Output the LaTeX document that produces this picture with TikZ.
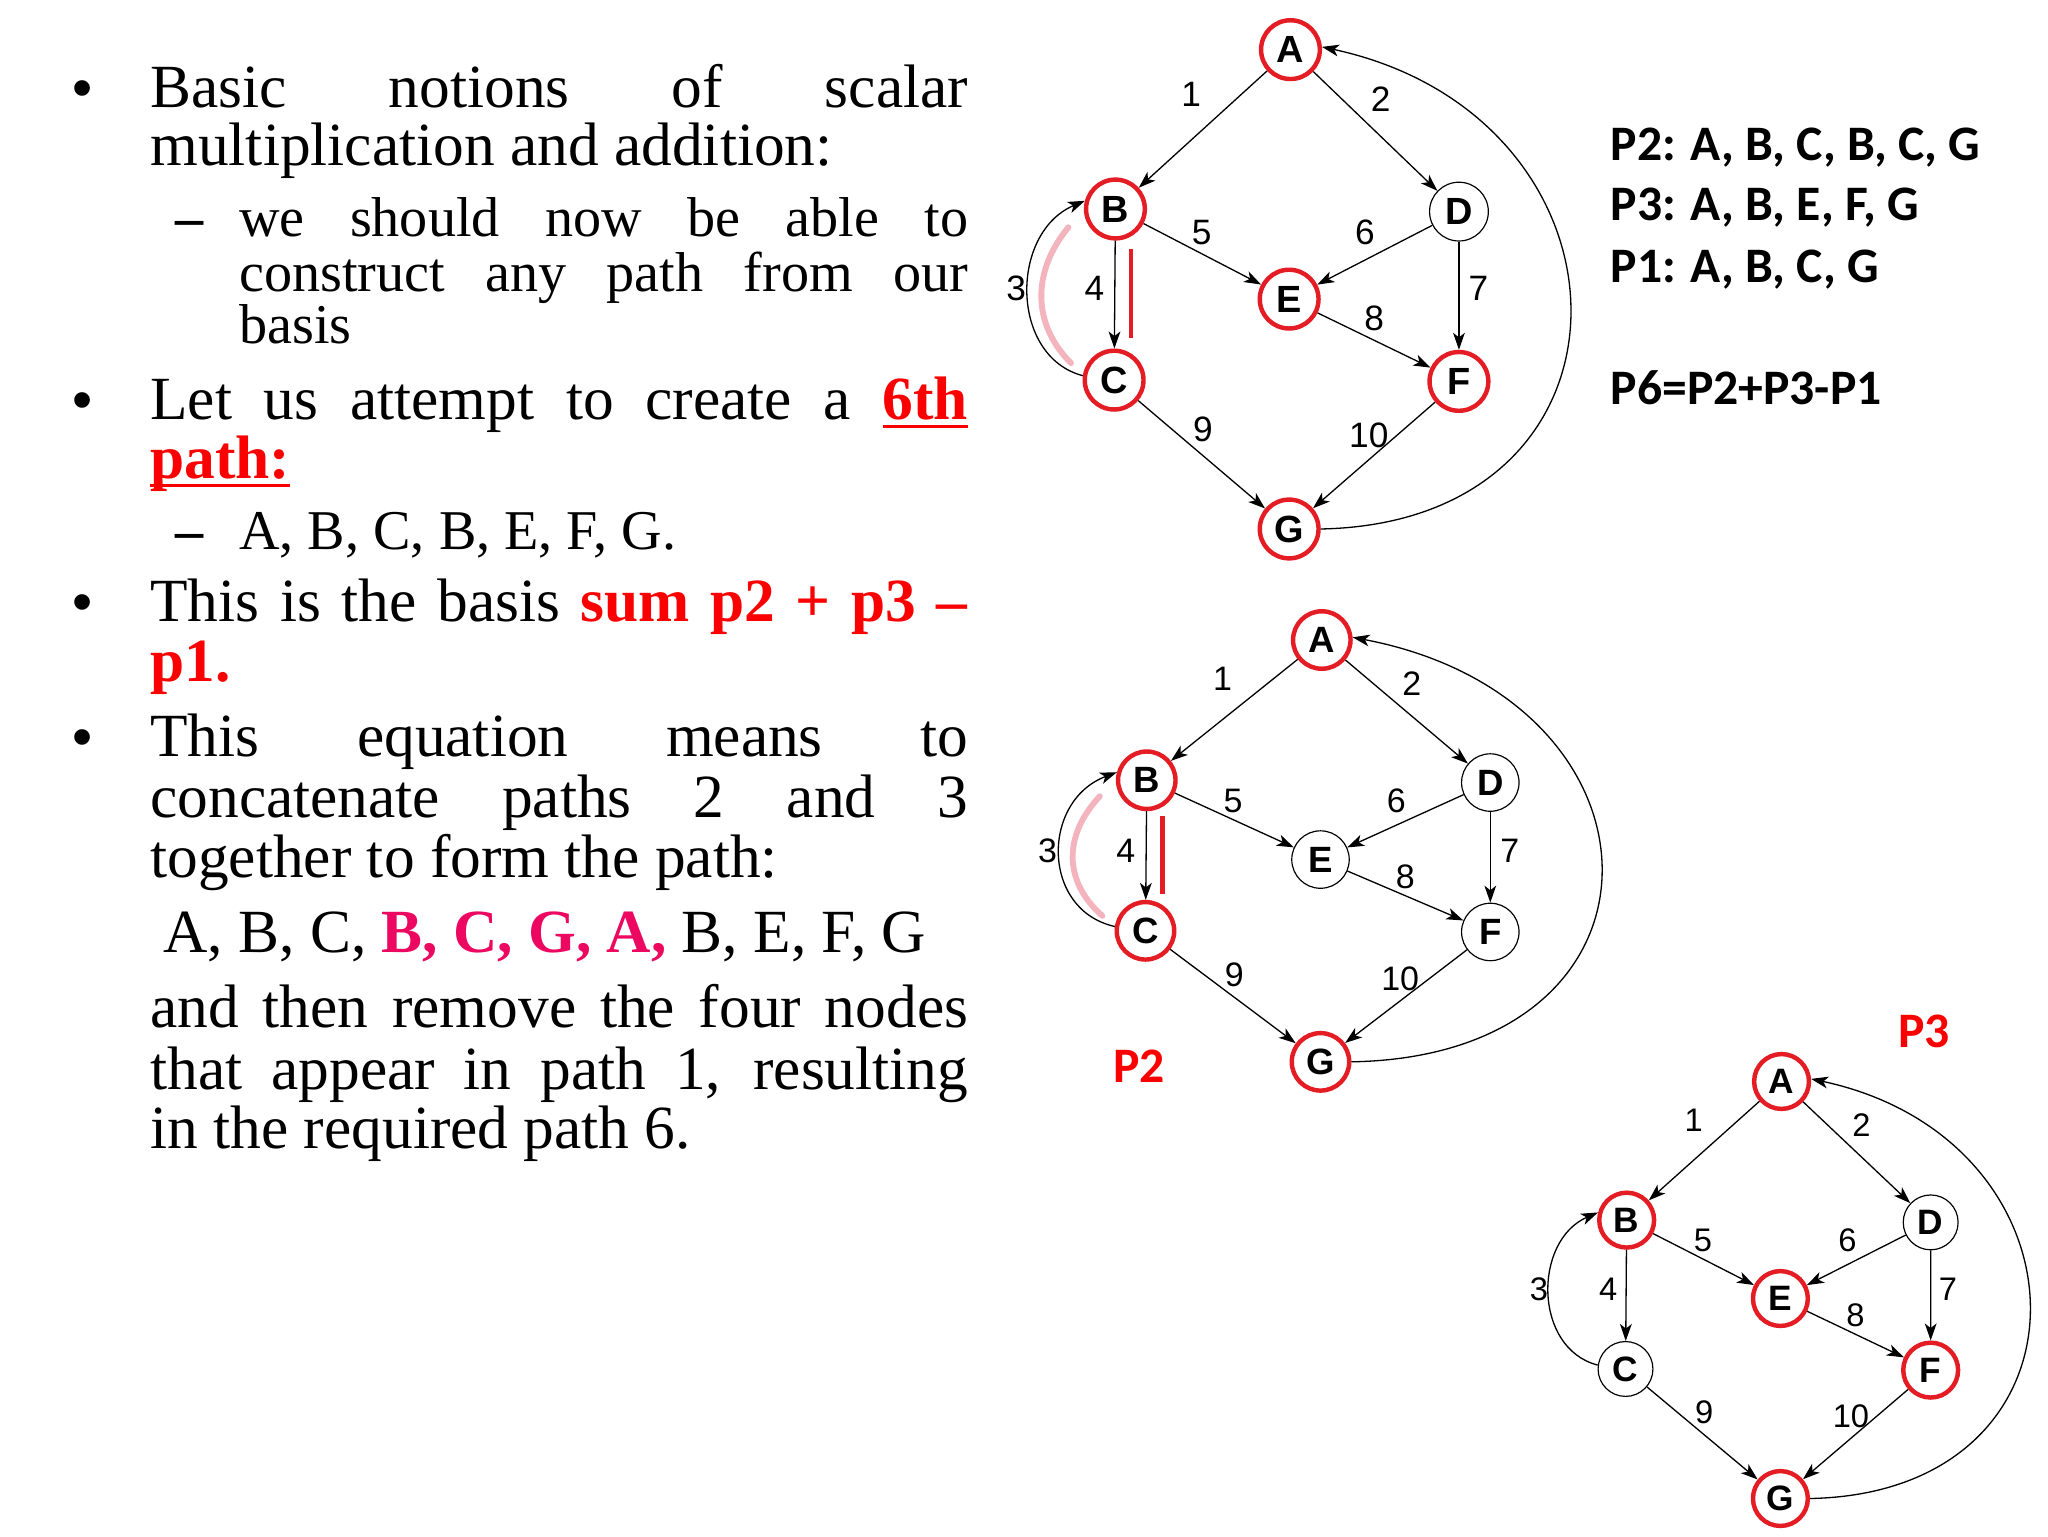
\documentclass[tikz,border=0pt]{standalone}
\usepackage{fontspec}
\setmainfont{Liberation Serif}
\newfontfamily\arialf{Liberation Sans}
\newfontfamily\calib{Carlito}
\usetikzlibrary{arrows.meta}
\definecolor{txtred}{RGB}{250,0,0}
\definecolor{ringred}{RGB}{228,28,36}
\definecolor{pathpink}{RGB}{236,8,96}
\definecolor{brushpink}{RGB}{244,180,190}
\newcommand\mainsize{\fontsize{47}{47}\selectfont}
\newcommand\subsize{\fontsize{43}{43}\selectfont}
\newsavebox\ulbox
\newcommand\redul[1]{\sbox\ulbox{#1}\rlap{\rule[-7pt]{\wd\ulbox}{2.8pt}}\usebox\ulbox}
\tikzset{
  txt/.style={anchor=base west, inner sep=0pt, font=\mainsize},
  subtxt/.style={anchor=base west, inner sep=0pt, font=\subsize},
  bul/.style={anchor=base, inner sep=0pt, font=\arialf\fontsize{44}{44}\selectfont},
  dsh/.style={anchor=base, inner sep=0pt, font=\subsize\bfseries},
  ring/.style={circle, inner sep=0pt, minimum size=44pt, font=\arialf\bfseries\fontsize{29}{29}\selectfont},
  hot/.style={draw=ringred, line width=3.4pt},
  cold/.style={draw=black, line width=0.9pt},
  edge/.style={-{Stealth[length=13pt,width=9pt,inset=3.5pt]}, line width=1pt},
  lbl/.style={inner sep=0pt, font=\arialf\fontsize{27}{27}\selectfont},
  redbar/.style={draw=ringred, line width=3.6pt},
  brush/.style={draw=brushpink, line width=4.5pt, line cap=round},
  plbl/.style={inner sep=0pt, text=txtred, font=\calib\bfseries\fontsize{38}{38}\selectfont},
  rtxt/.style={anchor=base west, inner sep=0pt, font=\calib\bfseries\fontsize{38}{38}\selectfont},
}
\newcommand\graphnet{%
  \node[ring,nA] (A) at (0,0) {A};
  \node[ring,nB] (B) at (-134,122) {B};
  \node[ring,nC] (C) at (-135,253) {C};
  \node[ring,nD] (D) at (129,124) {D};
  \node[ring,nE] (E) at (-1,191) {E};
  \node[ring,nF] (F) at (129,254) {F};
  \node[ring,nG] (G) at (-1,367) {G};
  \draw[edge] (A) -- (B);
  \draw[edge] (A) -- (D);
  \draw[edge] (C.172) .. controls (-215,235) and (-215,140) .. (B.165);
  \draw[edge] (B) -- (C);
  \draw[edge] (B) -- (E);
  \draw[edge] (D) -- (E);
  \draw[edge] (D) -- (F);
  \draw[edge] (E) -- (F);
  \draw[edge] (C) -- (G);
  \draw[edge] (F) -- (G);
  \draw[edge] (G.east) .. controls (280,362) and (274,52) .. (A.5);
  \node[lbl] (l1) at (-76,34) {1};
  \node[lbl] (l2) at (69,38) {2};
  \node[lbl] (l3) at (-210,183) {3};
  \node[lbl] (l4) at (-150,183) {4};
  \node[lbl] (l5) at (-68,140) {5};
  \node[lbl] (l6) at (57,140) {6};
  \node[lbl] (l7) at (144,183) {7};
  \node[lbl] (l8) at (64,206) {8};
  \node[lbl] (l9) at (-67,291) {9};
  \node[lbl] (l10) at (60,295) {10};
}
\begin{document}
\begin{tikzpicture}[x=1pt, y=-1pt]
\fill[white] (0,0) rectangle (1568,1176);
\useasboundingbox (0,0) rectangle (1568,1176);

% ---------- left text ----------
\node[bul] (b1) at (63,82) {•};
\node[txt] (t1) at (115,82) {\makebox[626pt][s]{Basic notions of scalar}};
\node[txt] (t2) at (115,127) {multiplication and addition:};
\node[dsh] (d1) at (145,181) {–};
\node[subtxt] (s1) at (183,181) {\makebox[558pt][s]{we should now be able to}};
\node[subtxt] (s2) at (183,223) {\makebox[558pt][s]{construct any path from our}};
\node[subtxt] (s3) at (183,263) {basis};
\node[bul] (b2) at (63,321) {•};
\node[txt] (t3) at (115,321) {\makebox[626pt][s]{Let us attempt to create a \textcolor{txtred}{\redul{\textbf{6th}}}}};
\node[txt] (t4) at (115,366) {\textcolor{txtred}{\redul{\textbf{path:}}}};
\node[dsh] (d2) at (145,421) {–};
\node[subtxt] (s4) at (183,421) {A, B, C, B, E, F, G.};
\node[bul] (b3) at (63,476) {•};
\node[txt] (t5) at (115,476) {\makebox[626pt][s]{This is the basis \textcolor{txtred}{\textbf{sum p2 + p3 –}}}};
\node[txt] (t6) at (115,522) {\textcolor{txtred}{\textbf{p1.}}};
\node[bul] (b4) at (63,579) {•};
\node[txt] (t7) at (115,579) {\makebox[626pt][s]{This equation means to}};
\node[txt] (t8) at (115,626) {\makebox[626pt][s]{concatenate paths 2 and 3}};
\node[txt] (t9) at (115,672) {together to form the path:};
\node[txt] (t10) at (125,729) {A, B, C, \textcolor{pathpink}{\textbf{B, C, G, A,}} B, E, F, G};
\node[txt] (t11) at (115,787) {\makebox[626pt][s]{and then remove the four nodes}};
\node[txt] (t12) at (115,834) {\makebox[626pt][s]{that appear in path 1, resulting}};
\node[txt] (t13) at (115,879) {in the required path 6.};

% ---------- right text ----------
\node[rtxt] (r1) at (1233,123) {P2: A, B, C, B, C, G};
\node[rtxt] (r2) at (1233,169) {P3: A, B, E, F, G};
\node[rtxt] (r3) at (1233,216) {P1: A, B, C, G};
\node[rtxt] (r4) at (1233,310) {P6=P2+P3-P1};

% ---------- graph 1 ----------
\begin{scope}[shift={(988,38)}, name prefix=g1-,
  nA/.style=hot, nB/.style=hot, nC/.style=hot, nD/.style=cold,
  nE/.style=hot, nF/.style=hot, nG/.style=hot,
  ring/.append style={minimum size=45pt}]
  \draw[brush] (-170,136) .. controls (-198,170) and (-198,210) .. (-168,240);
  \graphnet
  \draw[redbar] (-122,153) -- (-122,221);
\end{scope}

% ---------- graph 2 ----------
\begin{scope}[shift={(1012,490)}, yscale=0.88, name prefix=g2-,
  nA/.style=hot, nB/.style=hot, nC/.style=hot, nD/.style=cold,
  nE/.style=cold, nF/.style=cold, nG/.style=hot,
  ring/.append style={minimum size=44pt, font=\arialf\bfseries\fontsize{28}{28}\selectfont},
  lbl/.append style={font=\arialf\fontsize{26}{26}\selectfont}]
  \draw[brush] (-170,136) .. controls (-198,170) and (-198,210) .. (-168,240);
  \graphnet
  \draw[redbar] (-122,153) -- (-122,221);
\end{scope}
\node[plbl] (p2) at (872,816) {P2};

% ---------- graph 3 ----------
\begin{scope}[shift={(1364,828)}, xscale=0.885, yscale=0.87, name prefix=g3-,
  nA/.style=hot, nB/.style=hot, nC/.style=cold, nD/.style=cold,
  nE/.style=hot, nF/.style=hot, nG/.style=hot,
  ring/.append style={minimum size=42pt, font=\arialf\bfseries\fontsize{27}{27}\selectfont},
  lbl/.append style={font=\arialf\fontsize{25}{25}\selectfont}]
  \graphnet
\end{scope}
\node[plbl] (p3) at (1473,790) {P3};
\end{tikzpicture}
\end{document}
